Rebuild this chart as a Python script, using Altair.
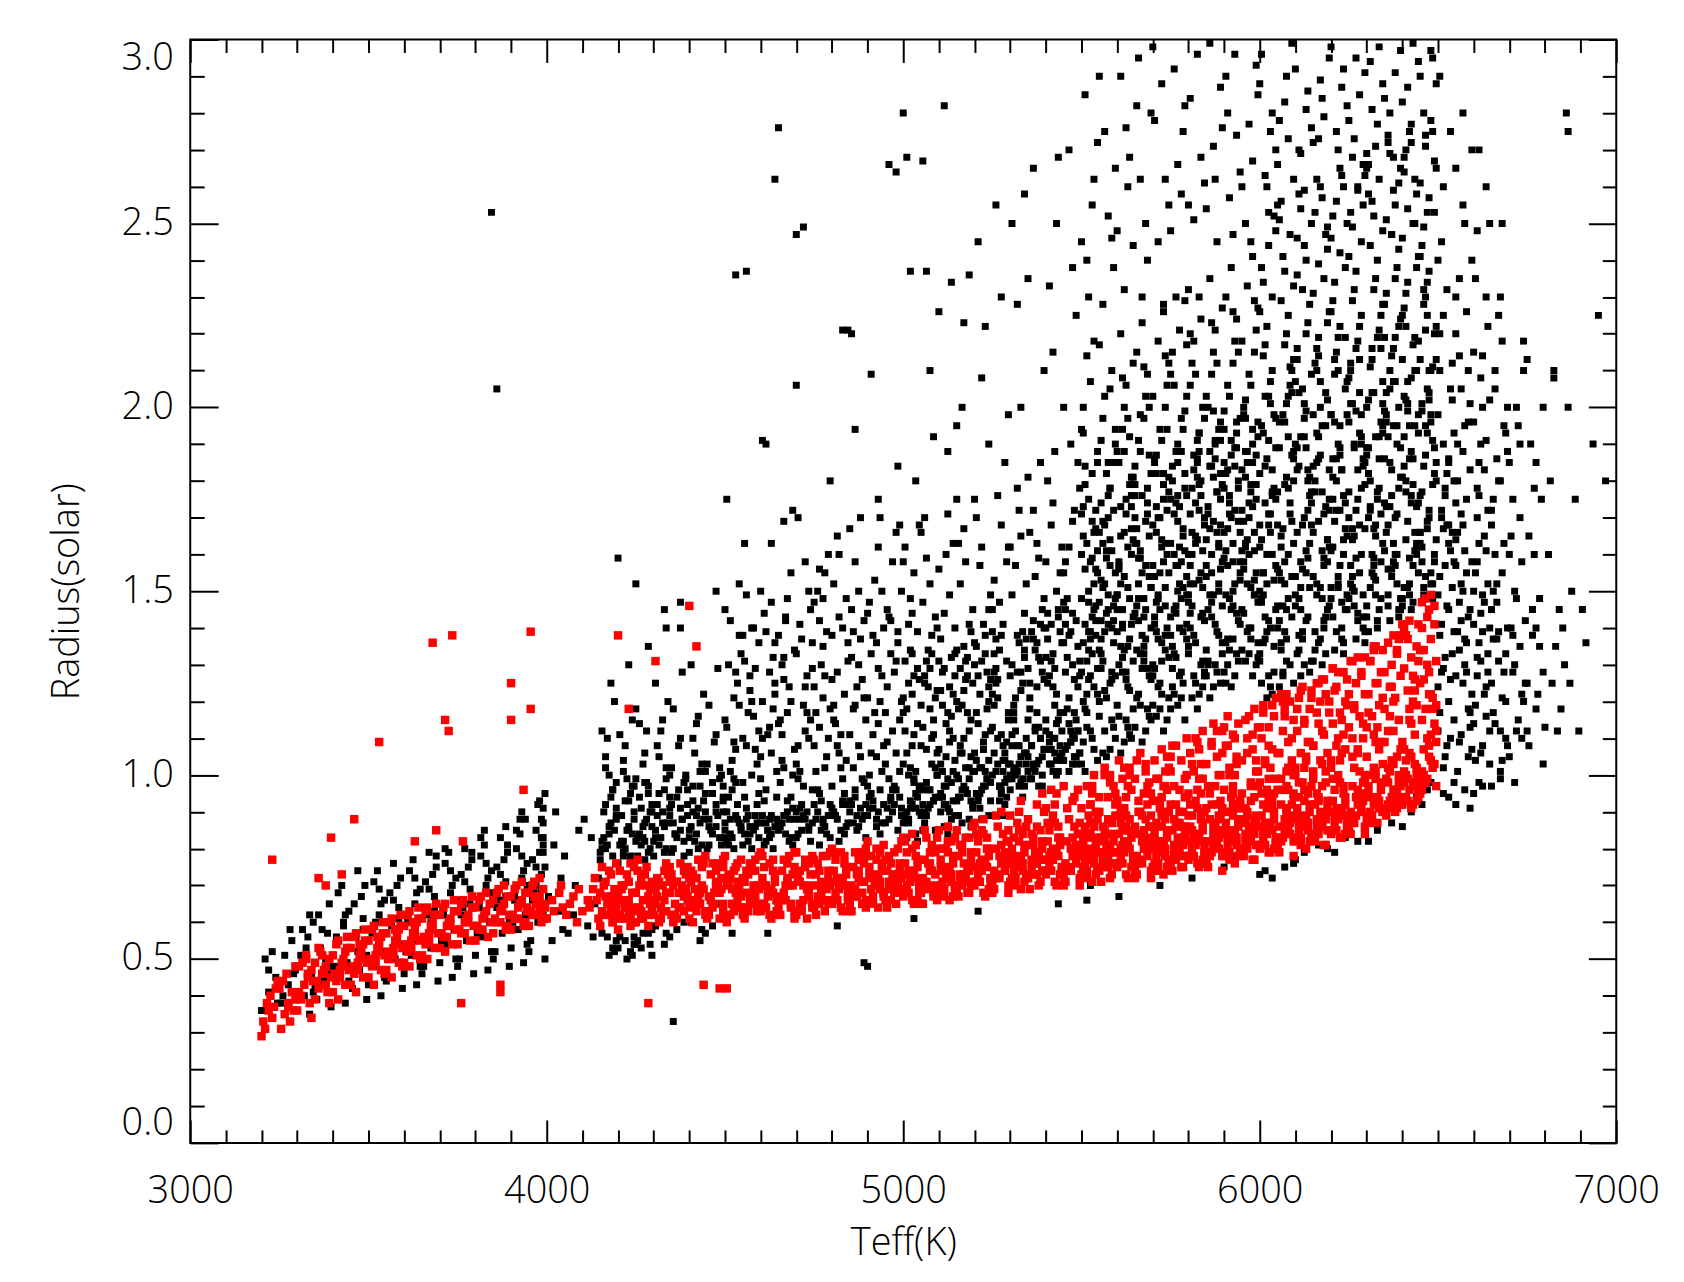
import altair as alt
import pandas as pd

# ---- tick values / labels ----
X_MAJOR = [3000, 4000, 5000, 6000, 7000]
X_MINOR = [3100, 3200, 3300, 3400, 3500, 3600, 3700, 3800, 3900,
           4100, 4200, 4300, 4400, 4500, 4600, 4700, 4800, 4900,
           5100, 5200, 5300, 5400, 5500, 5600, 5700, 5800, 5900,
           6100, 6200, 6300, 6400, 6500, 6600, 6700, 6800, 6900]
Y_MAJOR = [0.0, 0.5, 1.0, 1.5, 2.0, 2.5, 3.0]
Y_MINOR = [0.1, 0.2, 0.3, 0.4, 0.6, 0.7, 0.8, 0.9, 1.1, 1.2, 1.3, 1.4,
           1.6, 1.7, 1.8, 1.9, 2.1, 2.2, 2.3, 2.4, 2.6, 2.7, 2.8, 2.9]

# ---- data ----
# Each entry: (Teff column start, tokens). Token = one digit d (Teff = column + 5*d K)
# followed by the radius in hundredths of a solar radius.
RED_COOL = [
    (3200, "029 231 436 634 338 842 540 944 737 133 677"),
    (3250, "131 335 538 741 939 244 446 633 836 042 537 948"),
    (3300, "036 239 443 645 847 141 349 551 738 944 240 646 834 148 550"),
    (3350, "039 242 446 648 850 144 352 547 741 945 049 253 451 643 838 546 272 670 983"),
    (3400, "041 244 447 650 853 146 355 549 743 947 051 254 445 648 856 339 752 573"),
    (3450, "043 246 449 652 855 148 357 551 745 949 053 256 447 650 858 341 754 554 288"),
    (3500, "045 248 451 654 857 150 359 553 747 951 055 258 449 652 860 343 756 556 946 6109"),
    (3550, "047 250 453 656 859 152 361 555 749 953 057 260 451 654 862 345 758 558 948 150"),
    (3600, "049 252 455 658 861 154 363 557 751 955 059 262 453 656 864 348 760 560 950 682"),
    (3650, "051 254 457 660 862 156 364 559 753 957 061 263 455 658 865 350 762 6136 885"),
    (3700, "053 256 459 661 863 157 365 560 754 958 062 264 456 659 866 352 3115 5112 7138"),
    (3750, "054 257 460 662 864 158 366 561 755 959 063 265 457 660 867 238 382"),
    (3800, "055 258 461 663 865 159 367 562 756 960 064 266 458 668"),
    (3850, "057 260 463 665 867 161 369 564 758 962 066 268 460 670 859 443 441"),
    (3900, "058 261 464 666 868 162 370 565 759 963 067 269 461 671 860 565 964 0125 0115 796"),
    (3950, "059 262 465 667 869 163 371 566 760 964 068 270 462 672 861 566 965 763 367 664 961 1139 1118"),
    (4000, "061 366 768 964 463 870"),
    (4050, "162 567 869 365 760"),
    (4100, "063 366 669 961 772 464 866"),
]
RED_MID = [
    (4150, "059 262 465 667 869 163 371 566 760 964 068 270 462 673 861 566 965 763 367 664 961 175 574 976 760"),
    (4200, "058 261 464 666 868 162 370 565 759 963 067 269 461 671 860 565 964 762 366 663 960 174 573 975 776 270 0138 6118"),
    (4250, "060 363 767 971 174 466 869 562 270 675 964 068 372 759 461 865 573 177 966 264 670 361 869 762 738"),
    (4300, "461 065 768 272 975 563 169 874 360 666 971 464 062 776 267 570 873 165 968 371 674 066 763 1131"),
    (4350, "160 564 967 371 774 062 468 873 265 669 975 361 763 170 576 966 262 670 869 464 073 767 371"),
    (4400, "962 366 770 174 577 061 465 869 273 668 064 472 876 260 963 567 171 775 369 072 665 978 463 0146 4135 843"),
    (4450, "061 465 869 273 676 963 167 571 975 364 768 162 574 977 266 670 062 468 872 376 761 965 570 742"),
    (4500, "362 766 170 574 977 061 465 869 273 668 964 372 776 160 563 967 271 675 078 469 864 262 771 142"),
    (4550, "161 565 969 373 777 062 466 870 274 670 965 363 767 171 575 978 264 668 072 476 863 268 774"),
    (4600, "562 966 370 774 178 063 467 871 275 669 966 364 768 172 576 079 265 661 873 469 963 270 777"),
    (4650, "062 466 870 274 678 963 167 571 975 368 764 162 576 979 266 670 064 470 873 377 765 961 572"),
    (4700, "363 767 171 575 978 062 466 870 274 669 965 364 768 172 577 079 265 661 873 470 964 271 776"),
    (4750, "162 566 970 374 778 064 468 872 276 670 966 365 769 173 578 979 267 663 874 471 865 270 077"),
    (4800, "564 968 372 776 179 065 469 873 277 671 967 366 770 174 579 080 268 663 875 472 966 271 778"),
    (4850, "063 467 871 275 679 966 170 574 978 369 765 163 577 980 267 671 065 473 876 379 768 964 572"),
    (4900, "365 769 173 577 981 066 470 874 278 672 968 367 771 175 580 082 269 664 876 473 967 272 779 968"),
    (4950, "164 568 972 376 780 066 470 874 278 672 968 366 770 174 579 982 269 665 876 473 868 271 077 573"),
    (5000, "566 970 374 778 182 067 471 875 279 673 969 368 772 176 580 083 270 665 877 474 968 273 781 169 584 866"),
    (5050, "065 469 873 277 681 968 172 576 980 371 767 165 579 983 270 674 068 476 879 383 770 966 574 285 768 171"),
    (5100, "367 771 175 579 983 068 472 876 280 674 970 369 773 177 582 085 271 666 878 475 969 274 782 170 586 867 480"),
    (5150, "167 571 975 379 783 069 473 877 281 675 971 370 774 178 583 986 272 668 879 476 870 273 085 573 381 768"),
    (5200, "568 972 376 780 184 070 474 878 282 676 972 371 775 179 584 087 273 667 880 477 971 275 783 171 588 869 485"),
    (5250, "068 472 876 280 684 970 174 578 982 373 777 169 581 985 272 676 070 478 882 386 774 968 576 289 779 173 590"),
    (5300, "370 774 178 582 986 071 475 879 283 677 973 372 776 180 585 089 274 669 881 478 972 276 784 172 590 871 487 693"),
    (5350, "169 573 977 381 785 072 476 880 284 678 974 373 777 181 586 990 275 670 882 479 874 277 088 576 383 771 592 895"),
    (5400, "571 975 379 783 187 073 477 881 285 679 975 374 778 182 587 091 276 670 883 480 974 278 786 174 592 873 489 695 396"),
    (5450, "070 474 878 282 686 972 176 580 984 375 779 171 583 987 274 678 072 480 884 388 776 970 578 291 781 175 593 896 097 694"),
]
RED_HOT = [
    (5500, "372 776 180 584 988 073 477 881 285 679 975 374 778 182 587 091 276 671 883 480 974 278 786 174 592 873 489 695 397 7100 183"),
    (5550, "171 575 979 383 787 074 478 882 286 680 976 375 779 183 588 992 277 672 884 481 876 279 090 578 385 773 594 897 6100 3102 995"),
    (5600, "573 977 381 785 189 075 479 883 287 681 977 376 780 184 589 093 278 672 885 482 976 280 788 176 594 875 491 697 399 7102 1104 586"),
    (5650, "072 476 880 284 688 974 178 582 986 377 781 173 585 989 276 680 074 482 886 390 778 972 580 293 783 177 595 898 099 6103 3106 792"),
    (5700, "374 778 182 586 990 075 479 883 287 681 977 376 780 184 589 093 278 673 885 482 976 280 788 176 594 875 491 697 399 7101 1104 5107 896"),
    (5750, "174 578 982 386 790 076 480 884 288 682 978 377 781 185 590 994 279 675 886 483 878 281 092 580 387 775 596 899 0101 6104 3108 9110 487"),
    (5800, "576 980 384 788 192 077 481 885 289 683 979 378 782 186 591 095 280 675 887 484 978 282 790 178 596 877 493 699 3101 7103 1106 5109 8112 285"),
    (5850, "076 480 884 288 692 978 182 586 990 379 783 175 587 991 278 682 076 484 888 392 780 974 582 295 785 179 597 8100 0103 6105 3108 9112 4114 789"),
    (5900, "377 781 185 589 993 078 482 886 290 684 980 379 783 187 592 096 281 676 888 485 979 283 791 179 597 878 494 6100 3102 7105 1108 5111 8114 2116 490"),
    (5950, "178 582 986 390 794 079 483 887 291 685 981 380 784 188 593 997 282 677 889 486 881 284 095 583 389 777 598 8101 0104 6107 3110 9113 4116 7118 287"),
    (6000, "579 983 387 791 195 080 484 888 292 686 982 381 785 189 594 098 283 679 890 487 981 285 793 181 599 880 496 6102 3104 7107 1110 5113 8116 2119 9121 491"),
    (6050, "080 484 888 292 696 982 186 590 994 383 787 179 591 995 282 686 080 488 892 396 784 978 586 299 789 183 5101 8104 0106 6109 3112 9115 4118 7120 2122 597"),
    (6100, "381 785 189 593 997 082 486 890 294 688 984 383 787 191 596 0100 285 680 892 489 983 287 795 183 5102 882 498 6104 3106 7109 1112 5115 8118 2121 9123 4124"),
    (6150, "182 586 990 394 798 083 487 891 295 689 985 384 788 192 597 0101 286 681 893 490 885 288 099 587 393 781 5103 8106 0108 6111 3114 9117 4120 7122 2125 5126"),
    (6200, "583 987 391 795 199 084 488 892 296 690 986 385 789 193 598 0102 287 683 894 491 985 289 797 185 5104 884 4100 6106 3108 7111 1114 5117 8120 2123 9126 4128 1129"),
    (6250, "085 489 893 297 6101 986 190 594 998 387 791 184 596 9100 288 692 086 494 898 3102 790 984 592 2105 795 189 5107 8110 0113 6116 3119 9122 4125 7128 2131 5132"),
    (6300, "387 791 195 599 9103 088 492 896 2100 694 990 389 793 197 5101 0105 290 687 898 4102 990 294 7107 189 5109 891 4111 6113 3116 7119 1122 5125 8128 2131 9134 4135"),
    (6350, "189 593 997 3101 7105 090 494 898 2102 696 992 391 795 199 5103 9107 292 690 8100 4104 894 298 0109 596 393 791 5112 8115 0118 6121 3124 9127 4130 7133 2136 5138"),
    (6400, "591 995 399 7103 1107 092 496 8100 2104 698 994 393 797 1101 5105 0109 294 692 8102 4106 996 2100 7111 198 5114 893 4118 6120 3123 7126 1129 5132 8135 2138 9141 4142"),
    (6450, "095 499 8103 2107 6111 997 1101 5105 9109 398 7102 196 5108 9112 2100 6104 098 4110 8114 3118 7121 0125 5128 9131 2134 6137 1140 4143 8146 3148 6149 1115 5122 9119"),
]
RED_EXTRA = [
    (5500, "483 890 175 697 286 979 081 592"), (5550, "787 094 576 3100 989 282 698 484"),
    (5600, "291 978 4102 685 093 7100 385 896"), (5650, "995 583 1104 290 797 086 6101 489"),
    (5700, "682 299 8105 493 186 9102 590 797"), (5750, "1108 786 392 9100 587 0105 894 297"),
    (5800, "4110 089 795 2103 990 6107 383 899"), (5850, "893 6112 197 9106 486 7100 3109 091"),
    (5900, "0113 595 3100 887 2108 7103 992 6110"), (5950, "597 2115 8104 091 6111 3106 9101 788"),
    (6000, "2117 999 5108 693 0113 3103 7119 895"), (6050, "6102 3120 096 8110 4116 1106 9100 5122"),
    (6100, "9121 6105 298 5114 1118 8109 3123 0102"), (6150, "3125 0108 7101 2117 9120 5112 6126 4104"),
    (6200, "7128 4110 0104 9119 3124 6115 1129 8107"), (6250, "1131 8114 5106 0122 7127 3118 9132 2110"),
    (6300, "4134 1117 8109 6125 2131 9121 5135 0113"), (6350, "8137 5120 2112 0128 7134 4124 9138 3116"),
    (6400, "1140 7123 4115 9131 3137 6127 0141 8119"), (6450, "5145 2126 7118 0134 8141 4130 1147 6122"),
]

BLACK_COOL = [
    (3200, "036 441 845 250 652 938 447"),
    (3250, "138 543 947 351 755 240 846 658"),
    (3300, "036 440 845 251 656 960 358 762 148 553 941 735"),
    (3350, "139 544 948 353 757 262 865 458 042 746 937 650"),
    (3400, "041 445 849 254 659 963 368 762 148 570 944 738 256 660"),
    (3450, "142 547 951 356 761 265 870 474 043 758 939 667 452"),
    (3500, "043 448 852 257 662 966 371 765 149 574 945 740 258 669 460"),
    (3550, "145 550 954 359 764 268 872 476 044 761 942 670 466 558"),
    (3600, "046 451 855 260 665 969 374 768 152 577 948 743 261 672 964"),
    (3650, "148 553 957 362 767 271 875 479 046 763 944 673 469 560 878"),
    (3700, "049 454 858 263 668 972 376 770 155 579 950 745 262 674 966 380"),
    (3750, "150 555 959 364 769 273 877 480 048 765 946 675 471 561 879 262"),
    (3800, "051 456 860 265 670 974 378 772 157 581 952 747 264 676 968 383 585 9253"),
    (3850, "152 557 961 366 771 275 879 483 050 767 948 677 473 563 881 264 786 2205"),
    (3900, "053 458 862 267 672 976 380 774 159 584 954 749 266 678 970 385 588 888 690"),
    (3950, "155 560 964 368 773 277 881 485 052 769 950 679 475 565 883 266 788 891 693 592 887 470 975 879 783 862 995"),
    (4000, "355 763 872 481 958 167 590"),
    (4050, "257 670 885 562 078"),
    (4100, "359 765 972 583 188 656"),
]
BLACK_MID = [
    (4150, "077 481 885 290 694 998 3102 778 182 586 991 3105 753 157 955 551 4110 8120 283 687 989 380 796 5100 1112 852 456 6125 180 584 988 392 796 079"),
    (4200, "076 480 884 289 693 997 3101 777 181 585 990 3104 752 156 954 550 4108 8115 282 686 988 379 795 599 1111 851 455 6130 956 053 778 382 0159 281 685 089 493 897 378"),
    (4250, "178 582 986 391 795 099 4103 779 183 587 992 5106 353 757 155 951 6112 0118 284 688 990 381 797 598 2114 854 457 7135 958 054 880 483 0152 082 486 890 294 698 577"),
    (4300, "078 483 887 292 696 9100 3105 780 185 590 994 2108 757 159 654 4112 8120 082 686 289 989 381 7102 5115 956 1125 6145 7140 183 587 991 395 799 679"),
    (4350, "180 585 989 394 798 0102 4108 782 187 591 996 5110 358 760 1118 6128 284 688 992 383 899 5140 975 079 133 5147 284 688 092 496 8100 778"),
    (4400, "079 484 888 293 697 9101 3106 781 186 591 995 2110 758 160 655 4114 8122 083 687 290 990 382 7103 5116 957 1130 085 489 893 297 6101 580"),
    (4450, "181 586 990 395 799 0103 4109 783 188 592 997 5111 359 761 1119 6129 285 689 993 384 8100 5150 977 080 565 186 590 994 398 7102 881"),
    (4500, "083 4104 792 1113 698 087 5109 294 8119 3101 985 496 7125 190 6107 0115 599 388 2130 8138 5121 0145 6128 9133 3142 8152 6236 1175 457"),
    (4550, "291 7107 484 9112 098 5120 389 8103 194 6116 2108 786 4123 995 0110 5100 3117 892 1131 6140 4127 9136 2149 7129 0138 2237 1163 5140"),
    (4600, "588 0105 396 8122 689 1110 9101 485 7118 293 5113 099 8125 387 6106 1120 994 4111 7132 2144 5128 0150 8136 3139 6147 6163 3190 8262 1191 457"),
    (4650, "794 2111 087 5117 3102 891 6124 198 9107 489 7120 2104 0114 593 3126 8100 688 1115 9134 4143 2130 7155 0138 5148 3132 0276 3169 4142 8172"),
    (4700, "090 5112 2101 785 4119 996 1108 6127 392 8115 0103 5124 288 7110 497 9129 199 6117 3137 8145 0133 5158 2141 7150 9136 0247 0206 4249 1170"),
    (4750, "395 8110 588 0124 6102 1117 992 4130 7105 296 5121 0108 889 3113 6127 1101 9118 493 7139 2150 5135 0147 8160 3142 6155 3156 5148 9180"),
    (4800, "692 1115 8104 3128 097 5111 289 7122 4106 9131 699 1119 892 3108 0126 5102 2114 795 4143 9136 1152 6140 3165 8148 0138 6221 4160 9221 359"),
    (4850, "898 3119 093 5108 7126 2102 9115 489 1132 6105 8121 396 0111 5130 799 2118 992 4124 1145 6137 3158 8142 5150 0167 2139 1220 3194 6170 849"),
    (4900, "1100 6114 391 8127 5105 0121 796 2133 9108 4117 194 6129 3111 8101 5136 097 7120 2106 9140 4153 1147 6162 3138 8150 0144 2209 7170 6175 048"),
    (4950, "496 9120 1109 6131 394 8115 0103 5128 299 7136 4112 991 1124 6106 3133 8101 0117 597 2143 7139 4158 9150 1145 6166 3142 2266 6264 8168 7184"),
]
BLACK_WARM = [
    (5000, "283 0117 791 4102 8129 188 6111 3125 997 5133 2106 784 0121 493 8114 1131 699 387 9126 5108 2118 795 0103 4134 882 1112 6127 3100 990 5122 4148 8139 1162 6155 3141 9168 5144 0158 7180 2268 0280 4237 661"),
    (5050, "496 9123 185 6110 3131 8102 089 5118 2127 793 9106 4134 1113 681 398 8121 0108 5129 287 7115 9100 4124 192 6133 3107 885 0119 596 2125 7111 1147 6138 3159 8143 0166 5152 9140 2170 3237 7192 1267 5210"),
    (5100, "788 2119 599 0131 8110 386 6124 1103 9133 492 7116 2128 584 0107 8122 397 6112 190 9127 4105 7132 294 5117 085 8101 3129 6109 1123 989 4114 6149 1137 8163 3144 0156 5171 9140 4160 3282 0226 7234 5188"),
    (5150, "093 5126 2108 886 3119 6132 9101 189 4123 7112 0134 596 2129 8105 387 6117 9125 199 4110 788 0120 5131 294 8115 3106 6127 991 1118 4135 7102 2152 7141 4167 9145 0175 5158 8139 1163 0195 4223 7236 3200"),
    (5200, "395 8120 1104 6133 488 9112 2127 799 0136 5109 391 8124 1117 6101 4131 993 2114 7128 0106 597 3122 889 1135 6111 4102 9126 294 7118 0130 5107 8145 3157 6138 1170 9149 4162 0175 5141 6222 2245 4208 8190 263"),
    (5250, "6101 1128 493 9115 2137 7106 0122 596 8131 3110 689 1119 4134 9103 2125 792 0113 5138 899 3121 6108 1133 497 9117 2129 7104 0139 5111 894 3126 4147 9162 1153 6141 3176 8158 0145 5168 5230 9198 2255 7185"),
    (5300, "9103 4128 096 7139 2117 5108 8132 199 6123 3112 9137 4101 0127 794 2119 5136 8106 1130 698 3121 9110 4138 0103 7125 2115 597 8134 1108 6128 3100 1149 6165 3157 8144 4178 9152 0162 5172 1250 4228 8258 6200"),
    (5350, "299 7131 4112 9140 0105 5124 3137 897 1118 6132 2108 7141 4101 9126 0115 5136 3103 8128 1121 697 2139 7110 4134 9107 0129 5117 3142 8100 1125 6113 4154 9148 1166 6159 3172 8145 0181 5163 3265 7185 0235 9210"),
    (5400, "5106 0132 8117 3141 6100 1125 9136 4110 7143 2103 5129 0115 8139 3107 6122 1144 9112 4133 7101 2127 5119 0140 8108 3131 6114 1137 9104 4124 7145 2111 8155 3168 6150 1180 9162 4174 0158 5188 6250 2233 7268 4215 765"),
    (5450, "8112 3138 0104 6126 1145 4109 9131 2118 7142 5103 8135 3121 0147 6110 1128 4139 9106 2132 7115 5144 8124 3101 0136 6117 1141 4112 9127 2148 7105 5130 1158 6172 3162 8185 0155 5169 9178 4190 3270 0200 5238 7225"),
]
BLACK_HOT = [
    (5500, "0103 5137 2118 7152 4126 9161 1109 6143 3131 8167 0148 5112 2156 7124 4139 9104 1165 6133 3117 8146 0128 5158 2141 7107 4150 9122 1136 6169 3113 8142 0160 5127 2101 7145 4134 9155 1120 6110 3163 8138 4175 9188 1200 6182 3214 8172 0194 5207 2179 7218 9185 1173 2285 6255 0245 9272 4230 7262 3240 366 570"),
    (5550, "2106 7140 4121 9155 1129 6164 3112 8146 0134 5170 2151 7115 4159 9127 1142 6107 3168 8136 0120 5149 2131 7161 4144 9110 1153 6125 3139 8172 0116 5145 2163 7128 4105 9148 1137 6157 3123 8113 0166 5141 6178 1191 3203 8185 0217 5176 2197 7210 4182 9194 6205 1174 3275 8238 0290 5252 9265 2228 7246"),
    (5600, "4109 9143 6124 1158 3132 8167 5115 0149 7137 2173 4154 9118 6162 1130 3145 8110 5171 0139 7123 2152 4134 9164 6113 1156 3128 8141 5175 0119 7148 2106 4166 9131 6151 1116 3140 8160 5126 0145 7111 2135 8181 3194 5206 0188 2220 7179 4200 9212 1185 6197 3208 8176 2290 6260 0248 5276 9244 4232 7268 167 772"),
    (5650, "6112 1146 8127 3161 5135 0170 7118 2152 9140 4176 6157 1121 8165 3133 5148 0113 7174 2142 9126 4155 6137 1167 8116 3159 5131 0144 7178 2122 9151 4109 6169 1134 8154 3119 5143 0163 7129 2148 9115 4138 0184 5197 7209 2191 4223 9182 6203 1215 3188 8200 5211 0179 9280 4230 6250 1282 3262 7240 2295"),
    (5700, "8115 3149 0130 5164 7138 2173 9121 4155 1143 6179 8160 3124 0168 5136 7151 2116 9177 4145 1129 6158 8140 3170 0119 5162 7134 2147 9181 4125 1154 6112 8172 3137 0157 5122 7146 2166 9132 4118 1141 6175 2187 7200 9212 4194 6226 1185 8206 3218 5191 0203 7214 2182 0298 6228 3245 7262 1278 5288 9255 470 874"),
    (5750, "0118 5152 2133 7167 9141 4176 1124 6158 3146 8182 0163 5127 2171 7139 9154 4119 1180 6148 3132 8161 0143 5173 2122 7165 9137 4150 1184 6128 3157 8115 0175 5140 2160 7125 9149 4169 1135 6121 3144 8178 4190 9203 1215 6197 8229 3188 0209 5221 7194 2206 9217 4185 0248 4266 8282 2292 6258 3230 7275"),
    (5800, "2121 7155 4136 9170 1144 6179 3127 8161 0149 5185 2166 7130 4174 9142 1157 6122 3183 8151 0135 5164 2146 7176 4125 9168 1140 6153 3187 8131 0160 5118 2178 7143 4163 9128 1152 6172 3138 8124 0147 5181 6193 1206 3218 8200 0232 5191 2212 7224 9197 4209 1220 6188 3251 7268 1284 5296 9261 0255 6230 272 676"),
    (5850, "4124 9158 6139 1173 3147 8182 5130 0164 7152 2188 4169 9133 6177 1145 3160 8125 5186 0154 7138 2167 4149 9179 6128 1171 3143 8156 5190 0134 7163 2121 4181 9146 6166 1131 3155 8175 5141 0127 7150 2184 8196 3209 5221 0203 2235 7194 4215 9227 1200 6212 3223 8191 0254 4271 8287 2299 6245 5262 9276"),
    (5900, "6127 1161 8142 3176 5150 0185 7133 2167 9155 4191 6172 1136 8180 3148 5163 0128 7189 2157 9141 4170 6152 1182 8131 3174 5146 0159 7193 2137 9166 4124 6184 1149 8169 3134 5158 0178 7144 2130 9153 4187 0199 5212 7224 2206 4238 9197 6218 1230 3203 8215 5226 0194 3257 7274 1290 5247 9264 2280 6296 075 578 979"),
    (5950, "8130 3164 0145 5179 7153 2188 9136 4170 1158 6194 8175 3139 0183 5151 7166 2131 9192 4160 1144 6173 8155 3185 0134 5177 7149 2162 9196 4140 1169 6127 8187 3152 0172 5137 7161 2181 9147 4133 1156 6190 2202 7215 9227 4209 6241 1200 8221 3233 5206 0218 7229 2197 0260 4277 8293 2250 6267 9285 5245"),
    (6000, "0133 5168 2149 7183 4121 9157 1195 6140 3174 8128 0162 5203 2136 7177 4152 9189 1125 6166 3143 8198 0131 5171 2155 7122 4186 9145 1164 6201 3137 8178 0150 5127 2193 7160 4139 9175 1147 6124 3184 8153 0168 5142 2214 7230 9248 4222 6207 1238 8252 3217 5244 0226 7210 2234 3263 7280 1296 5253 9270 0288 6275 4260 374 772 073"),
    (6050, "2136 7171 4152 9186 1124 6160 3198 8143 0177 5131 2165 7206 4139 9180 1155 6192 3128 8169 0146 5201 2134 7174 4158 9125 1189 6148 3167 8204 0140 5181 2153 7130 4196 9163 1142 6178 3127 8187 0156 5145 4217 9233 1251 6225 8210 3241 0255 5220 7247 2229 9213 4237 0266 4283 8299 2256 6273 5290 9262 1278 475 976"),
    (6100, "4139 9174 6155 1189 3127 8163 5201 0146 7180 2134 4168 9209 6142 1183 3158 8128 5192 0149 7172 2204 4137 9177 6161 1133 3192 8151 5170 0207 7143 2184 4156 9131 6199 1166 3145 8181 5130 0190 7159 2148 6220 1236 3254 8228 0213 5244 2258 7223 9250 4232 1216 6240 3269 7286 1246 5259 9276 0292 6281 2270 077 579"),
    (6150, "6142 1177 8158 3192 5130 0166 7204 2149 9183 4137 6171 1212 8145 3186 5161 0131 7195 2152 9175 4207 6140 1180 8164 3136 5195 0154 7173 2210 9146 4187 6159 1134 8202 3169 5148 0184 7133 2193 9162 4151 8223 3239 5257 0231 2216 7247 4260 9226 1253 6235 3219 8243 0272 4289 8249 2262 6279 9295 5284 3273 880 381"),
    (6200, "8145 3180 0161 5195 7133 2169 9207 4152 1186 6140 8174 3215 0148 5189 7164 2134 9198 4210 1143 6183 8167 3139 0198 5157 7176 2213 9149 4190 1162 6137 8205 3172 0151 5187 7136 2196 9165 4154 1181 6147 0226 5242 7260 2234 4219 9250 6263 1229 3256 8238 5222 0246 3275 7292 1252 5265 9282 0298 4270 6287 279 883"),
    (6250, "0148 5183 2164 7198 9136 4172 1210 6155 3189 8143 0177 5218 2151 7192 9167 4137 1201 6213 3146 8186 0170 5142 2201 7160 9179 4216 1152 6193 3165 8140 0208 5175 2154 7190 9139 4199 6168 1157 8184 3150 2229 7245 9263 4237 6222 1253 8266 3232 5259 0241 7225 2249 0278 4295 8255 2268 6285 9291 3273 5260 582 085"),
    (6300, "2151 7186 4167 9201 1139 6175 3213 8158 5192 0146 2180 7221 4154 9195 1170 6140 3204 8216 5149 0189 2173 7145 4204 9163 1182 6219 3155 8196 5168 0143 2211 7178 4157 9193 6142 1202 8171 3160 0187 5153 4232 9248 1266 6240 8225 3256 0269 5235 7262 2244 9228 4252 3281 7298 1258 5271 9288 2294 6277 0265 182 685 990"),
    (6350, "4154 9189 6170 1204 3142 8178 5216 0161 7195 2149 4183 9224 6157 1198 3173 8143 5207 0219 7152 2192 4176 9148 6207 1166 3185 8222 5158 0199 7171 2146 4214 9181 6160 1196 8145 3205 0174 5163 7190 2156 6235 1251 3269 8243 0228 5259 2272 7238 9265 4247 1231 6255 0284 4247 8261 2274 6291 9297 3280 5268 487 791"),
    (6400, "6157 1192 8173 3207 5145 0181 7219 2164 9198 4152 6186 1227 8160 3201 5176 0146 7210 2222 9155 4195 6179 1151 8210 3169 5188 0225 7161 2202 9174 4149 6217 1184 8163 3199 0148 5208 2177 7166 9193 4159 8238 3254 5272 0246 2231 7262 4275 9241 1268 6250 3234 8258 3287 7250 1264 5277 9294 0283 6299 2270 086 590 894"),
    (6450, "8160 3195 0176 5210 7148 2184 9222 4167 1201 6155 8189 3230 0163 5204 7179 2149 9213 4225 1158 6198 8182 3154 0213 5172 7191 2228 9164 4205 1177 6152 8220 3187 0166 5202 2151 7211 9180 4169 6196 1162 0241 5257 7275 2249 4234 9265 6278 1244 3271 8253 5237 0261 0290 4253 8267 2280 6297 9288 3274 7295 192 698 496"),
]
BLACK_EDGE = [
    (6500, "0112 5146 2128 7161 4105 9139 1154 6120 3167 8133 0149 5108 2170 7126 4157 9115 1138 6163 3102 8151 0124 5168 2141 7110 4132 9158 1117 6145 3129 8166 4178 9193 1210 6186 3225 8202 0240 5182 3260 7275 1290 998 395 694"),
    (6550, "2109 7143 4125 9158 1101 6136 3152 8117 0164 5130 2147 7105 4168 9122 1139 6155 3111 8145 0127 5161 2134 7118 4150 9107 1166 6128 3142 8113 0157 5137 6175 1190 3205 8183 0220 5250 7196 2235 0265 4280 9270 092 596 891"),
    (6600, "4106 9140 6122 1155 398 8133 5149 0114 7161 2127 4144 9103 6165 1119 3136 8152 5108 0141 7124 2158 4131 9112 6147 1104 3163 8128 5139 0150 7116 2132 8172 3185 5200 0215 2178 7230 9250 4190 3270 7260 095 597"),
    (6650, "6104 1137 8120 3152 5112 0145 7128 2160 9108 4139 6155 1117 8133 3147 5101 0125 7163 2114 9140 4131 6121 1150 8110 3137 0172 5180 7195 2210 4225 9188 6250 097 599"),
    (6700, "0105 4112 8120 2128 6135 9142 3150 7158 1165 5115 9125 2138 6170 0185 4200 8218 398 7110"),
    (6750, "1108 5118 9128 3138 7148 0112 4160 8175 2190 6122 0213 5140 9103"),
    (6800, "0113 4125 8145 2160 6135 9118 3180 7112 5210 5208"),
    (6850, "1130 5150 9112 3200 7175 0140 4125 2280 3275"),
    (6900, "3136 7190 1145"),
    (6950, "4180 0225"),
]
BLACK_EXTRA = [
    (4500, "580 384 887 182 689 483 986 281 788 085"), (4550, "081 685 288 983 486 184 789 382 887 580"),
    (4600, "382 886 189 684 087 583 988 281 485 780"), (4650, "783 287 590 085 988 484 186 682 389 881"),
    (4700, "184 588 291 786 489 083 987 385 690 882"), (4750, "485 889 092 587 290 784 188 983 686 381"),
    (4800, "886 190 693 388 091 585 289 784 987 482"), (4850, "287 691 394 889 192 586 090 485 788 983"),
    (4900, "588 992 295 690 393 887 191 586 089 784"), (4950, "989 393 696 191 894 288 592 087 490 785"),
    (5000, "087 491 894 290 698 388 7101 592 996 189"), (5050, "389 793 196 592 9100 290 6103 894 097 491"),
    (5100, "690 094 497 893 2101 591 9104 195 798 392"), (5150, "992 396 799 194 5102 893 2106 497 0100 695"),
    (5200, "293 697 0101 496 8104 195 5107 799 3102 998"), (5250, "595 999 3103 798 1106 497 8109 0100 6104 2101"),
    (5300, "897 2101 6105 0100 4108 799 1111 3102 9106 5103"), (5350, "199 5103 9107 3102 7110 0101 4113 6104 2108 8105"),
    (5400, "4101 8105 2109 6104 0112 3103 7115 9106 5110 1107"), (5450, "7103 1107 5111 9106 3114 6105 0117 2108 8112 4109"),
    (5500, "3122 8156 0171 5139 2184 7166 9129 4147 1193 6159"), (5550, "6178 1133 4161 9190 0147 7126 2169 5185 8142 3152"),
    (5600, "0149 9181 5128 2165 7192 3141 8173 1157 6135 4188"), (5650, "8187 4129 1163 6145 3198 9151 0176 5133 2159 7171"),
    (5700, "2139 6182 9155 0127 4170 8194 3148 7163 1186 5131"), (5750, "7151 3174 0138 8199 5162 1129 6188 2145 9176 4157"),
    (5800, "4165 0133 7180 3152 9127 6193 1171 8144 5186 2160"), (5850, "1130 8168 5191 2149 6177 0157 9136 3184 7162 4199"),
    (5900, "9158 5137 2183 7196 0166 4145 8178 1125 6189 3171"), (5950, "6185 2163 9132 4174 1198 7149 3188 0161 5140 8179"),
    (6000, "5191 1148 7176 3203 8135 0182 4160 9197 2155 6171"), (6050, "3146 9188 6203 0168 4179 8154 1196 5137 7211 2162"),
    (6100, "8176 4205 0154 6189 2138 9168 5197 1213 3151 7183"), (6150, "0198 6157 3214 9172 7143 2185 8164 4200 1139 5177"),
    (6200, "6183 2209 9145 5172 0198 7160 3186 8219 4151 1175"), (6250, "4159 0196 7178 1212 5144 9185 2167 6204 3190 8149"),
    (6300, "9207 5165 1189 8148 3216 6177 0200 4159 7192 2172"), (6350, "2168 8200 4156 0186 6219 1173 9145 5195 3210 7160"),
    (6400, "7195 3151 9218 5174 1203 8162 4186 0213 6147 2180"), (6450, "5170 1199 8158 3221 9185 6210 0166 4193 7152 2232"),
    (6500, "2172 6185 0198 4176 8212 3190 7205 1220 5232 9180 2245 6168"),
    (6550, "0174 4188 8201 2214 6226 1180 5195 9240 3171 7210 0230 4255"),
    (6600, "2170 6183 0196 4208 8222 3176 7191 1235 5214 9202 2248"),
    (6650, "0168 4180 8193 2205 6218 1175 5230 9200 3186"),
    (6700, "2175 6190 0160 4148 8210 3130 7122 1140 5195"),
    (6750, "1165 5185 9200 3145 7135 0125 4178"),
]


def decode(groups):
    rows = []
    for col, tokens in groups:
        for tok in tokens.split():
            rows.append((col + 5 * int(tok[0]), int(tok[1:]) / 100.0))
    return pd.DataFrame(rows, columns=["teff", "radius"])


black_df = decode(BLACK_COOL + BLACK_MID + BLACK_WARM + BLACK_HOT + BLACK_EDGE + BLACK_EXTRA)
red_df = decode(RED_COOL + RED_MID + RED_HOT + RED_EXTRA)

W, H = 1432, 1108
FONT = "Open Sans"
FS = 38
FW = 300

xs = alt.Scale(domain=[3000, 7000], nice=False, zero=False)
ys = alt.Scale(domain=[0, 3], nice=False, zero=False)


def tick_axis(orient, offset, values, size):
    return alt.Axis(orient=orient, offset=offset, values=values, ticks=True,
                    tickSize=size, tickWidth=2, tickColor="black",
                    labels=False, domain=False, grid=False, title=None)


x_lab = alt.Axis(orient="bottom", values=X_MAJOR, format="d", ticks=False,
                 domain=False, grid=False, labelFlush=False, labelOverlap=False,
                 labelPadding=30, labelFont=FONT, labelFontSize=FS,
                 labelFontWeight=FW, labelColor="black", title="Teff(K)",
                 titleFont=FONT, titleFontSize=FS, titleFontWeight=FW,
                 titleColor="black", titlePadding=14)
y_lab = alt.Axis(orient="left", values=Y_MAJOR, format=".1f", ticks=False,
                 domain=False, grid=False, labelFlush=True, labelOverlap=False,
                 labelPadding=17, labelFont=FONT, labelFontSize=FS,
                 labelFontWeight=FW, labelColor="black", title="Radius(solar)",
                 titleFont=FONT, titleFontSize=FS, titleFontWeight=FW,
                 titleColor="black", titlePadding=35)

black = alt.Chart(black_df).mark_square(size=49, color="black", opacity=1, clip=True).encode(
    x=alt.X("teff:Q", scale=xs, axis=x_lab),
    y=alt.Y("radius:Q", scale=ys, axis=y_lab),
)
red = alt.Chart(red_df).mark_square(size=72, color="#ff0000", opacity=1, clip=True).encode(
    x=alt.X("teff:Q", scale=xs, axis=tick_axis("top", -H, X_MAJOR, 23)),
    y=alt.Y("radius:Q", scale=ys, axis=tick_axis("right", -W, Y_MAJOR, 28)),
)


def guide_layer(xa, ya):
    return alt.Chart(red_df).transform_filter("false").mark_point(opacity=0).encode(
        x=alt.X("teff:Q", scale=xs, axis=xa),
        y=alt.Y("radius:Q", scale=ys, axis=ya),
    )


g1 = guide_layer(tick_axis("top", -H, X_MINOR, 13), tick_axis("right", -W, Y_MINOR, 14))
g2 = guide_layer(tick_axis("bottom", -H, X_MAJOR, 23), tick_axis("left", -W, Y_MAJOR, 28))
g3 = guide_layer(tick_axis("bottom", -H, X_MINOR, 13), tick_axis("left", -W, Y_MINOR, 14))

chart = (
    alt.layer(black, red, g1, g2, g3)
    .resolve_axis(x="independent", y="independent")
    .properties(width=W, height=H,
                autosize=alt.AutoSizeParams(type="none"),
                padding={"left": 183, "top": 29, "right": 60, "bottom": 130},
                background="white")
    .configure_view(stroke="black", strokeWidth=2)
)

chart.save("out.html", embed_options={"renderer": "svg", "actions": False})
